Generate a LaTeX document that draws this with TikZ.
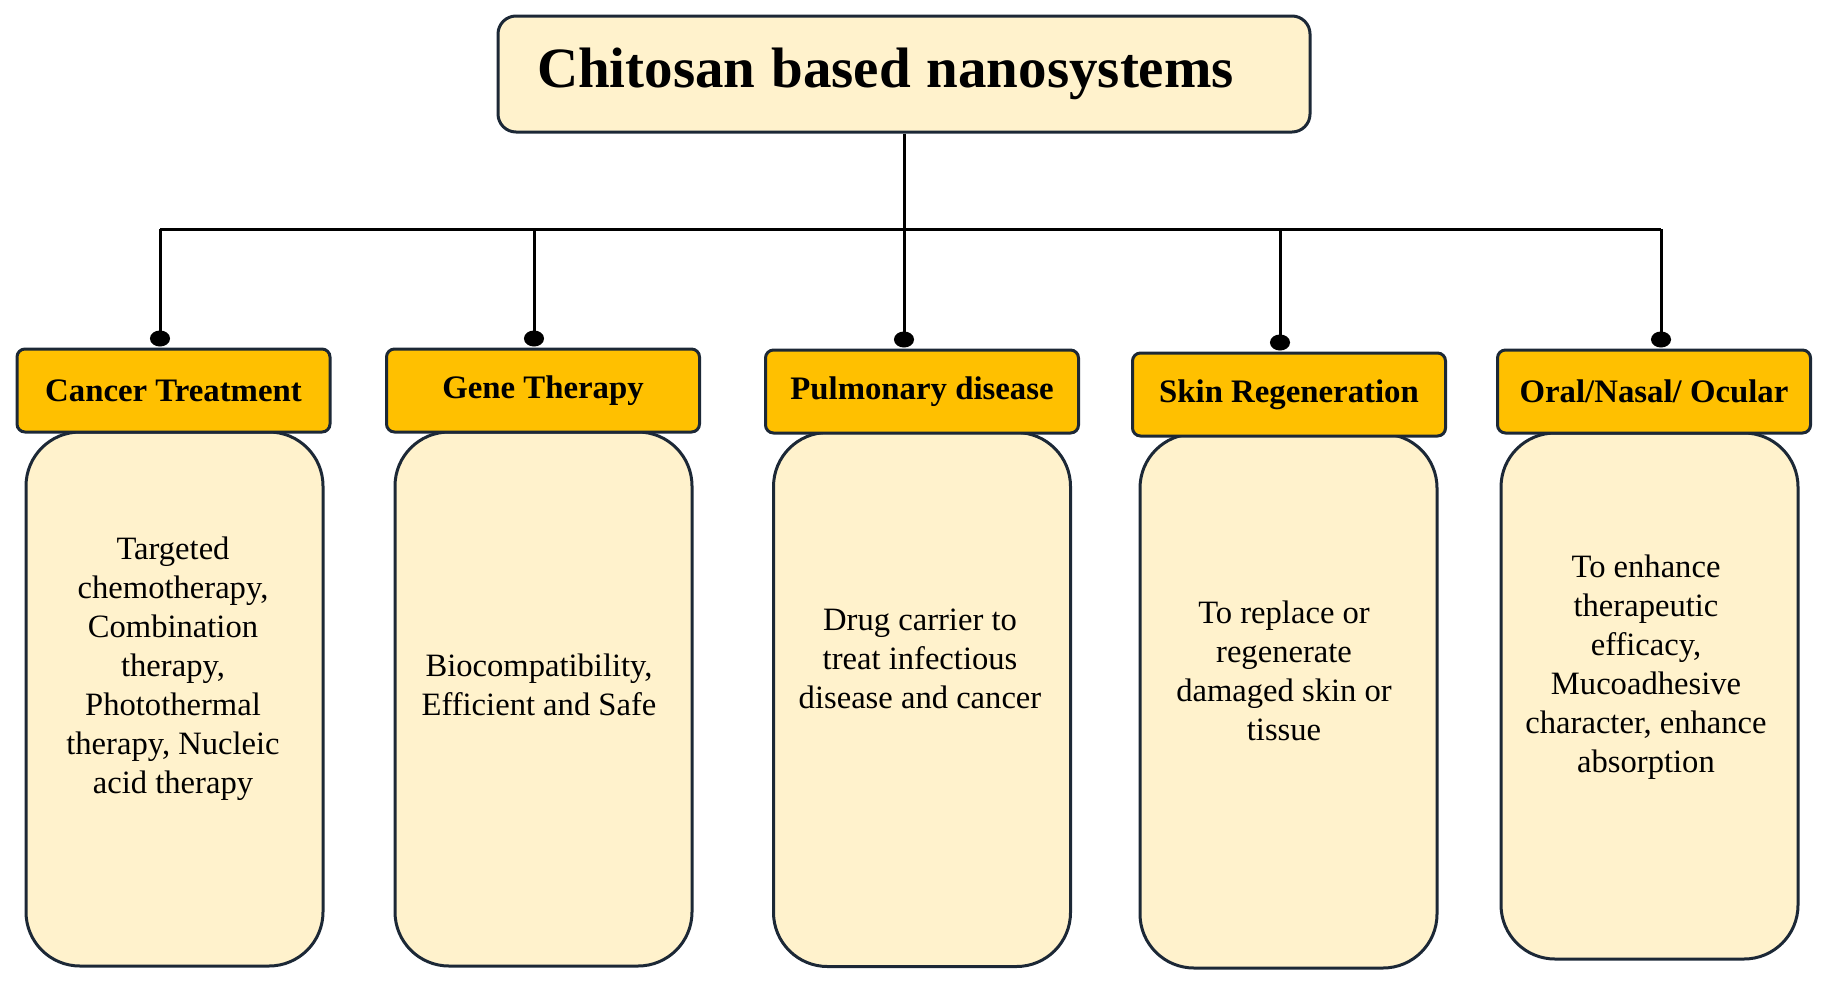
\documentclass[tikz,border=0pt]{standalone}
\usepackage{fontspec}
\setmainfont{Liberation Serif}
\usetikzlibrary{arrows.meta}
\definecolor{cream}{HTML}{FFF2CC}
\definecolor{gold}{HTML}{FFC000}
\definecolor{edgeblue}{HTML}{1C2836}

\begin{document}
\begin{tikzpicture}[x=0.5pt, y=-0.5pt,
   titlebox/.style={draw=edgeblue, line width=1.5pt, fill=cream, rounded corners=9pt,
      text width=367pt, inner xsep=19.5pt, minimum height=58pt, align=left,
      font=\bfseries\fontsize{28.5}{34}\selectfont},
   head/.style={draw=edgeblue, line width=1.5pt, fill=gold, rounded corners=4pt,
      minimum width=156.5pt, minimum height=41.5pt, inner sep=0pt,
      font=\bfseries\fontsize{16.4}{19}\selectfont},
   body/.style={draw=edgeblue, line width=1.5pt, fill=cream, rounded corners=27pt,
      minimum width=148.5pt, minimum height=267pt, inner sep=0pt},
   bodytext/.style={align=center, font=\fontsize{16.3}{19.5}\selectfont},
   drop/.style={line width=1.5pt, -{Circle[length=8pt, width=10pt]}, shorten >=0.5pt},
   bus/.style={line width=1.5pt}]
\useasboundingbox (0,0) rectangle (1829,986);

\node[titlebox] (title) at (904,74) {Chitosan\hspace{0.28em}based\hspace{0.28em}nanosystems};

% boxes under the headers
\node[body] (cbody) at (174.5,699) {};
\node[body] (gbody) at (543.5,699) {};
\node[body] (pbody) at (922,699.5) {};
\node[body] (sbody) at (1288.5,701) {};
\node[body, minimum height=263pt] (obody) at (1649.5,696) {};

\node[head] (cancer) at (173.5,390.5) {Cancer Treatment\hspace{8pt}};
\node[head] (gene) at (543,390.5) {Gene Therapy\hspace{6pt}};
\node[head] (pulm) at (922,391.5) {Pulmonary disease\hspace{8pt}};
\node[head] (skin) at (1289,394.5) {Skin Regeneration\hspace{3pt}};
\node[head] (oral) at (1654,391.5) {Oral/Nasal/ Ocular\hspace{4pt}};

\node[bodytext] (ctext) at (173,669) {Targeted\\chemotherapy,\\Combination\\therapy,\\Photothermal\\therapy, Nucleic\\acid therapy};
\node[bodytext] (gtext) at (539,685) {Biocompatibility,\\Efficient and Safe};
\node[bodytext] (ptext) at (920,659) {Drug carrier to\\treat infectious\\disease and cancer};
\node[bodytext] (stext) at (1284,671) {To replace or\\regenerate\\damaged skin or\\tissue};
\node[bodytext] (otext) at (1646,667) {To enhance\\therapeutic\\efficacy,\\Mucoadhesive\\character, enhance\\absorption};

\coordinate (j1) at (160,229);
\coordinate (j2) at (534,229);
\coordinate (j3) at (904,229);
\coordinate (j4) at (1280,229);
\coordinate (j5) at (1661,229);

\path
	(title) edge[bus] (j3)
	(j1) edge[bus] (j5)
	(j1) edge[drop] (j1 |- cancer.north)
	(j2) edge[drop] (j2 |- gene.north)
	(j3) edge[drop] (j3 |- pulm.north)
	(j4) edge[drop] (j4 |- skin.north)
	(j5) edge[drop] (j5 |- oral.north)
;

\end{tikzpicture}
\end{document}
